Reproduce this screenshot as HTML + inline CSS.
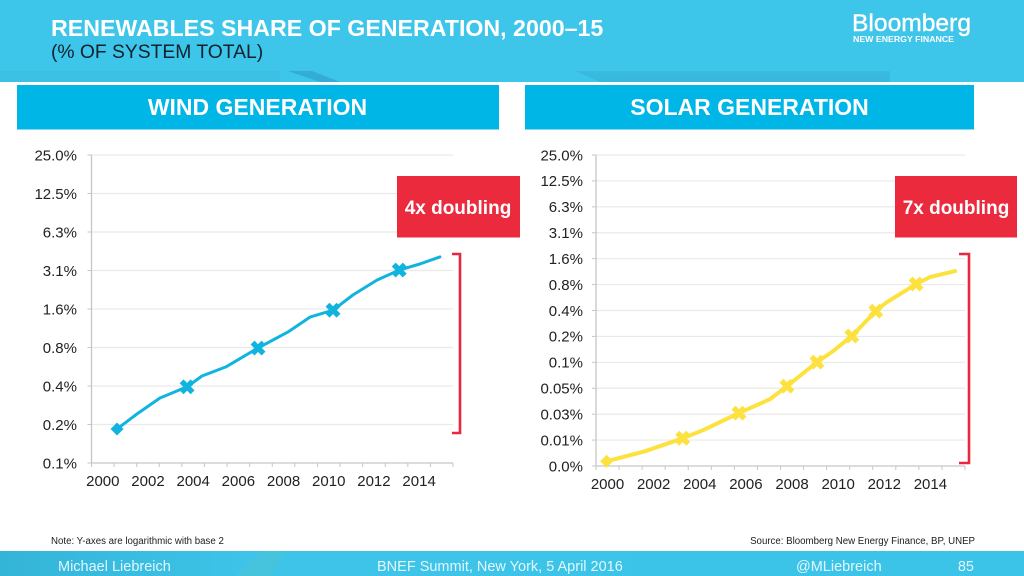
<!DOCTYPE html>
<html lang="en">
<head>
<meta charset="utf-8">
<title>Renewables share of generation</title>
<style>
html,body{margin:0;padding:0;background:#fff;}
svg{display:block;font-family:"Liberation Sans",sans-serif;}
</style>
</head>
<body>
<svg id="slide" width="1024" height="576" viewBox="0 0 1024 576" xmlns="http://www.w3.org/2000/svg">
  <defs>
    <linearGradient id="bandShade" x1="0" y1="0" x2="0" y2="1">
      <stop offset="0" stop-color="#2fa9cc" stop-opacity=".55"/>
      <stop offset="1" stop-color="#2fa9cc" stop-opacity=".8"/>
    </linearGradient>
    <linearGradient id="footGrad" x1="0" y1="0" x2="1" y2="0">
      <stop offset="0" stop-color="#34b5d8"/>
      <stop offset=".25" stop-color="#3dc4e8"/>
      <stop offset="1" stop-color="#3cc3e8"/>
    </linearGradient>
  </defs>

  <rect x="0" y="0" width="1024" height="576" fill="#ffffff"/>

  <g>
    <rect x="0" y="0" width="1024" height="82" fill="#3ec5ea"/>
    <polygon points="575,71 890,71 890,82 600,82" fill="url(#bandShade)" opacity=".6"/>
    <polygon points="288,71 312,71 340,82 320,82" fill="#2a93c6" opacity=".5"/>
    <rect x="0" y="71" width="280" height="11" fill="#39b9dc" opacity=".4"/>
  </g>
  <text x="51" y="36" font-size="23.2" font-weight="bold" fill="#ffffff">RENEWABLES SHARE OF GENERATION, 2000–15</text>
  <text x="51" y="58" font-size="19.3" fill="#10222c">(% OF SYSTEM TOTAL)</text>

  <g>
    <text x="852" y="31" font-size="24" fill="#ffffff" stroke="#ffffff" stroke-width=".4" textLength="119" lengthAdjust="spacingAndGlyphs">Bloomberg</text>
    <text x="853" y="42" font-size="8" font-weight="bold" fill="#ffffff" textLength="101" lengthAdjust="spacingAndGlyphs">NEW ENERGY FINANCE</text>
  </g>

  <g>
    <rect x="17" y="85" width="482" height="44.5" fill="#00b6e6"/>
    <text x="257.5" y="115" font-size="23" font-weight="bold" fill="#ffffff" text-anchor="middle">WIND GENERATION</text>
  </g>
  <g>
    <rect x="525" y="85" width="449" height="44.5" fill="#00b6e6"/>
    <text x="749.5" y="115" font-size="23" font-weight="bold" fill="#ffffff" text-anchor="middle">SOLAR GENERATION</text>
  </g>

  <g id="wind-chart"></g>
  <g id="solar-chart"></g>

  <g>
    <rect x="397" y="176" width="123" height="61.5" fill="#ec2a3e"/>
    <text x="458" y="214" font-size="19" font-weight="bold" fill="#ffffff" text-anchor="middle">4x doubling</text>
  </g>
  <path d="M452,254 H460 V433 H452" fill="none" stroke="#e9283f" stroke-width="2.6"/>

  <g>
    <rect x="895" y="176" width="122" height="61.5" fill="#ec2a3e"/>
    <text x="956" y="214" font-size="19" font-weight="bold" fill="#ffffff" text-anchor="middle">7x doubling</text>
  </g>
  <path d="M959,254 H969 V463 H959" fill="none" stroke="#e9283f" stroke-width="2.6"/>

  <text x="51" y="544" font-size="9.7" fill="#1c1c1c">Note: Y-axes are logarithmic with base 2</text>
  <text x="975" y="544" font-size="9.7" fill="#1c1c1c" text-anchor="end">Source: Bloomberg New Energy Finance, BP, UNEP</text>

  <g>
    <rect x="0" y="551" width="1024" height="25" fill="url(#footGrad)"/>
    <polygon points="235,576 262,551 285,551 272,576" fill="#55c6cf" opacity=".4"/>
    <text x="58" y="571" font-size="14.5" fill="#e4f7fc">Michael Liebreich</text>
    <text x="377" y="571" font-size="14.5" fill="#e4f7fc">BNEF Summit, New York, 5 April 2016</text>
    <text x="796" y="571" font-size="14.5" fill="#e4f7fc">@MLiebreich</text>
    <text x="974" y="571" font-size="14.5" fill="#e4f7fc" text-anchor="end">85</text>
  </g>
</svg>

<script>
// Shared x axis
const xCategories = [2000,2001,2002,2003,2004,2005,2006,2007,2008,2009,2010,2011,2012,2013,2014,2015];
const xTickLabels = ['2000','2002','2004','2006','2008','2010','2012','2014'];

// Wind chart data
const windTickLabels = ['25.0%','12.5%','6.3%','3.1%','1.6%','0.8%','0.4%','0.2%','0.1%'];
const windYears = [2000.63,2001.51,2002.53,2003.73,2004.39,2005.45,2006.87,2008.19,2009.17,2010.19,2011.07,2012.13,2013.12,2014.03,2014.92];
const windValues = [0.180,0.236,0.315,0.385,0.468,0.551,0.774,1.03,1.35,1.53,2.01,2.63,3.15,3.51,3.99];
const windMarkerYears = [2000.63,2003.73,2006.87,2010.19,2013.12];
const windMarkerValues = [0.180,0.385,0.774,1.53,3.15];

// Solar chart data
const solarTickLabels = ['25.0%','12.5%','6.3%','3.1%','1.6%','0.8%','0.4%','0.2%','0.1%','0.05%','0.03%','0.01%','0.0%'];
const solarYears = [1999.96,2001.62,2003.26,2004.14,2005.70,2007.05,2007.78,2009.08,2009.78,2010.59,2011.63,2012.12,2013.38,2013.98,2015.07];
const solarValues = [0.00692,0.00905,0.01282,0.0159,0.0251,0.0365,0.0516,0.098,0.132,0.197,0.384,0.489,0.792,0.955,1.12];
const solarMarkerYears = [1999.96,2003.26,2005.70,2007.78,2009.08,2010.59,2011.63,2013.38];
const solarMarkerValues = [0.00692,0.01282,0.0251,0.0516,0.098,0.197,0.384,0.792];

const SVG_NS = 'http://www.w3.org/2000/svg';

function make(tag, attrs, parent) {
  const el = document.createElementNS(SVG_NS, tag);
  for (const k in attrs) el.setAttribute(k, attrs[k]);
  parent.appendChild(el);
  return el;
}

function drawChart(root, cfg) {
  const topValue = 25;
  const rows = cfg.tickLabels.length - 1;
  const step = (cfg.bottom - cfg.top) / rows;
  const band = (cfg.right - cfg.left) / xCategories.length;
  const xPos = function (year) { return cfg.left + (year - xCategories[0] + 0.5) * band; };
  const yPos = function (v) { return cfg.top + Math.log2(topValue / v) * step; };

  cfg.tickLabels.forEach(function (label, i) {
    const y = cfg.top + i * step;
    if (i < rows) {
      const grid = make('line', {x1: cfg.left, x2: cfg.right, y1: y, y2: y, stroke: '#e9e9e9', 'stroke-width': 1.2}, root);
      
      
    }
    const tick = make('line', {x1: cfg.left - 4, x2: cfg.left, y1: y, y2: y, stroke: '#c6c6c6', 'stroke-width': 1}, root);
    
    
    const text = make('text', {x: cfg.labelRight, y: y + 5.3, 'font-size': 15, fill: '#222222', 'text-anchor': 'end'}, root);
    text.textContent = label;
    
    
  });

  const yAxis = make('line', {x1: cfg.left, x2: cfg.left, y1: cfg.top, y2: cfg.bottom, stroke: '#c6c6c6', 'stroke-width': 1.3}, root);
  
  
  const xAxis = make('line', {x1: cfg.left, x2: cfg.right, y1: cfg.bottom, y2: cfg.bottom, stroke: '#c6c6c6', 'stroke-width': 1.3}, root);
  
  

  for (let i = 0; i <= xCategories.length; i++) {
    const tx = cfg.left + i * band;
    const tick = make('line', {x1: tx, x2: tx, y1: cfg.bottom, y2: cfg.bottom + 4, stroke: '#c6c6c6', 'stroke-width': 1}, root);
    
    
  }
  xTickLabels.forEach(function (label) {
    const text = make('text', {x: xPos(Number(label)), y: cfg.bottom + 23, 'font-size': 15, fill: '#222222', 'text-anchor': 'middle'}, root);
    text.textContent = label;
    
    
  });

  const pts = cfg.years.map(function (yr, i) { return xPos(yr).toFixed(1) + ',' + yPos(cfg.values[i]).toFixed(1); }).join(' ');
  const line = make('polyline', {points: pts, fill: 'none', stroke: cfg.color, 'stroke-width': cfg.lineWidth, 'stroke-linejoin': 'round', 'stroke-linecap': 'round'}, root);
  
  

  cfg.markerYears.forEach(function (yr, i) {
    const mx = xPos(yr);
    const my = yPos(cfg.markerValues[i]);
    if (i === 0) {
      const r = 6.5;
      const diamond = make('polygon', {points: [mx, my - r, mx + r, my, mx, my + r, mx - r, my].join(' '), fill: cfg.color}, root);
      
      
    } else {
      const s = 5.5;
      const cross = make('path', {d: 'M' + (mx - s) + ',' + (my - s) + 'L' + (mx + s) + ',' + (my + s) + 'M' + (mx + s) + ',' + (my - s) + 'L' + (mx - s) + ',' + (my + s), fill: 'none', stroke: cfg.color, 'stroke-width': 5.5}, root);
      
      
    }
  });
}

drawChart(document.getElementById('wind-chart'), {
  name: 'wind', left: 91.5, right: 453, top: 155, bottom: 463, labelRight: 77,
  tickLabels: windTickLabels, years: windYears, values: windValues,
  markerYears: windMarkerYears, markerValues: windMarkerValues,
  color: '#10b4de', lineWidth: 3
});
drawChart(document.getElementById('solar-chart'), {
  name: 'solar', left: 596, right: 965, top: 155, bottom: 466, labelRight: 583,
  tickLabels: solarTickLabels, years: solarYears, values: solarValues,
  markerYears: solarMarkerYears, markerValues: solarMarkerValues,
  color: '#fde23f', lineWidth: 4
});
</script>
</body>
</html>
